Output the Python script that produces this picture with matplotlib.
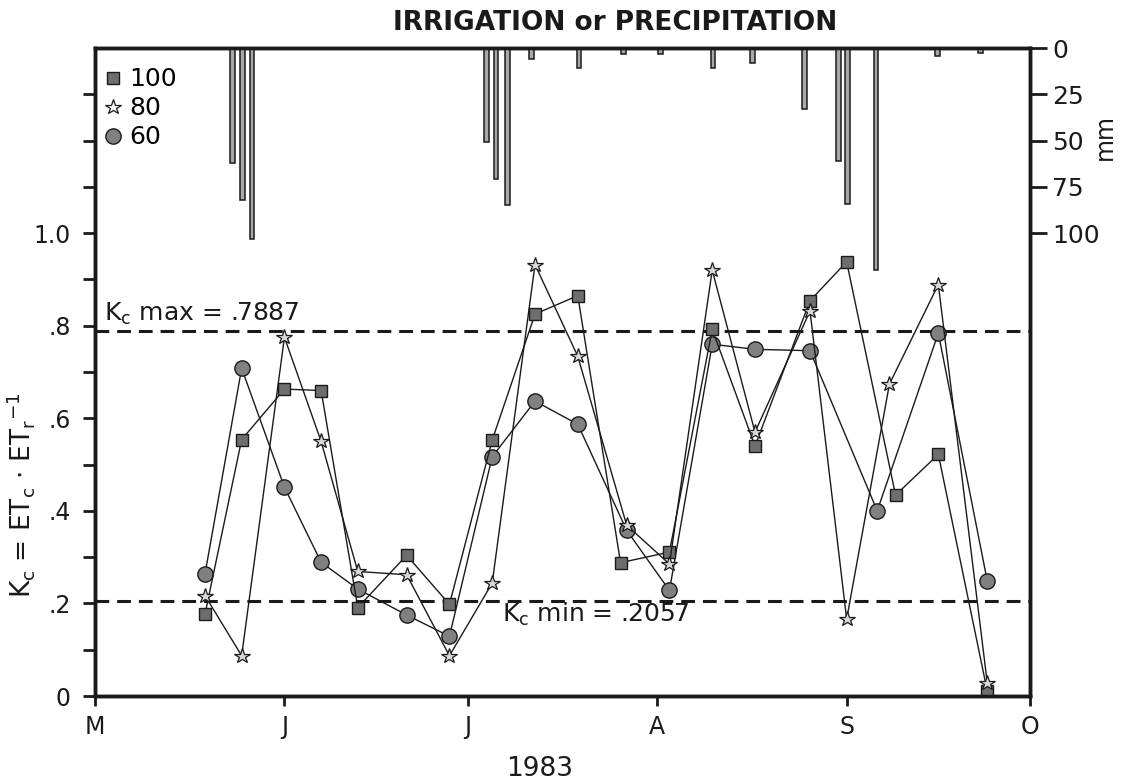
import matplotlib
matplotlib.use("Agg")
import matplotlib.pyplot as plt
from matplotlib.lines import Line2D
import numpy as np

plt.rcParams['font.family'] = ['DejaVu Sans']
plt.rcParams['mathtext.fontset'] = 'dejavusans'

# day of year, 1983
month_days = [121, 152, 182, 213, 244, 274]
month_labels = ['M', 'J', 'J', 'A', 'S', 'O']

# crop coefficient Kc for the three irrigation levels
day_100 = [139, 145, 152, 158, 164, 172, 179, 186, 193, 200, 207, 215, 222, 229, 238, 244, 252, 259, 267]
kc_100 = [.177, .554, .663, .660, .191, .304, .198, .553, .825, .865, .288, .311, .792, .540, .854, .938, .434, .522, .011]

day_80 = [139, 145, 152, 158, 164, 172, 179, 186, 193, 200, 208, 215, 222, 229, 238, 244, 251, 259, 267]
kc_80 = [.217, .087, .775, .550, .269, .262, .087, .244, .932, .734, .369, .285, .920, .570, .832, .166, .674, .889, .029]

day_60 = [139, 145, 152, 158, 164, 172, 179, 186, 193, 200, 208, 215, 222, 229, 238, 249, 259, 267]
kc_60 = [.264, .708, .451, .289, .231, .175, .129, .517, .637, .587, .358, .228, .760, .749, .746, .400, .784, .249]

kc_max = .7887
kc_min = .2057

# irrigation / precipitation events (mm)
rain_day = [143.5, 145.1, 146.7, 185.1, 186.6, 188.5, 192.4, 200.2, 207.5, 213.5,
            222.1, 228.6, 237.1, 242.7, 244.1, 248.8, 258.9, 265.9]
rain_mm = [62, 82, 103, 51, 71, 85, 6, 11, 3.5, 3, 11, 8, 33, 61, 84, 120, 4.5, 2.7]

ink = '#1a1a1a'
fs = 17

fig = plt.figure(figsize=(11.27, 7.82), dpi=100)
ax = fig.add_axes([95/1127, 86/782, 935/1127, 648/782])

ax.plot(day_60, kc_60, color=ink, lw=1.0, marker='o', ms=11,
        mfc='#808080', mec=ink, mew=1.0, zorder=3)
ax.plot(day_100, kc_100, color=ink, lw=1.0, marker='s', ms=8.5,
        mfc='#6e6e6e', mec=ink, mew=1.0, zorder=4)
ax.plot(day_80, kc_80, color=ink, lw=1.0, marker='*', ms=11.5,
        mfc='#d8d8d8', mec=ink, mew=0.9, zorder=5)

ax.axhline(kc_max, color=ink, lw=2.2, ls=(0, (4.5, 2.6)), zorder=2)
ax.axhline(kc_min, color=ink, lw=2.2, ls=(0, (4.5, 2.6)), zorder=2)
ax.text(122.4, 0.81, r'K$_\mathrm{c}$ max = .7887', fontsize=fs + 1, color=ink, va='baseline')
ax.text(187.6, 0.160, r'K$_\mathrm{c}$ min = .2057', fontsize=fs + 1, color=ink, va='baseline')

ax.set_xlim(month_days[0], month_days[-1])
ax.set_ylim(0, 1.4)
ax.set_xticks(month_days)
ax.set_xticklabels(month_labels)
ax.set_yticks([0, .2, .4, .6, .8, 1.0])
ax.set_yticklabels(['0', '.2', '.4', '.6', '.8', '1.0'])
ax.set_yticks(np.arange(0.1, 1.35, 0.2).tolist() + [1.2], minor=True)
ax.tick_params(axis='both', which='both', direction='out', color=ink, width=2,
               labelsize=fs, labelcolor=ink)
ax.tick_params(axis='y', which='both', length=8.5, pad=9)
ax.tick_params(axis='x', length=7, pad=7)
for s in ax.spines.values():
    s.set_linewidth(2.5)
    s.set_color(ink)

ax.set_xlabel('1983', fontsize=fs + 2, color=ink)
ax.xaxis.set_label_coords(0.476, -0.092)
ax.set_ylabel(r'K$_\mathrm{c}$ = ET$_\mathrm{c}$ $\cdot$ ET$_\mathrm{r}$$^{-1}$',
              fontsize=fs + 2, color=ink)
ax.yaxis.set_label_coords(-0.062, 0.31)

# rainfall axis hanging from the top
ax2 = ax.twinx()
ax2.bar(rain_day, rain_mm, width=0.75, color='#a8a8a8', edgecolor=ink, lw=1.1, zorder=2)
ax2.set_ylim(350, 0)
ax2.set_yticks([0, 25, 50, 75, 100])
ax2.tick_params(axis='y', direction='out', length=12, width=2, color=ink,
                pad=4, labelsize=fs + 1, labelcolor=ink)
ax2.text(1.080, 0.863, 'mm', transform=ax2.transAxes, fontsize=fs, color=ink,
         rotation=90, ha='center', va='center')
for s in ax2.spines.values():
    s.set_linewidth(2.5)
    s.set_color(ink)

handles = [
    Line2D([], [], ls='none', marker='s', ms=8.5, mfc='#6e6e6e', mec=ink),
    Line2D([], [], ls='none', marker='*', ms=11.5, mfc='white', mec=ink, mew=0.9),
    Line2D([], [], ls='none', marker='o', ms=11, mfc='#808080', mec=ink),
]
ax.legend(handles, ['100', '80', '60'], loc='upper left', bbox_to_anchor=(0.010, 0.970),
          frameon=False, fontsize=fs + 1, handlelength=0.7, handletextpad=0.3,
          labelspacing=0.2, borderpad=0, borderaxespad=0)

fig.text(0.546, 0.970, 'IRRIGATION or PRECIPITATION', fontsize=fs + 2,
         fontweight='bold', color=ink, ha='center', va='center')

fig.savefig('out.png', dpi=100)
